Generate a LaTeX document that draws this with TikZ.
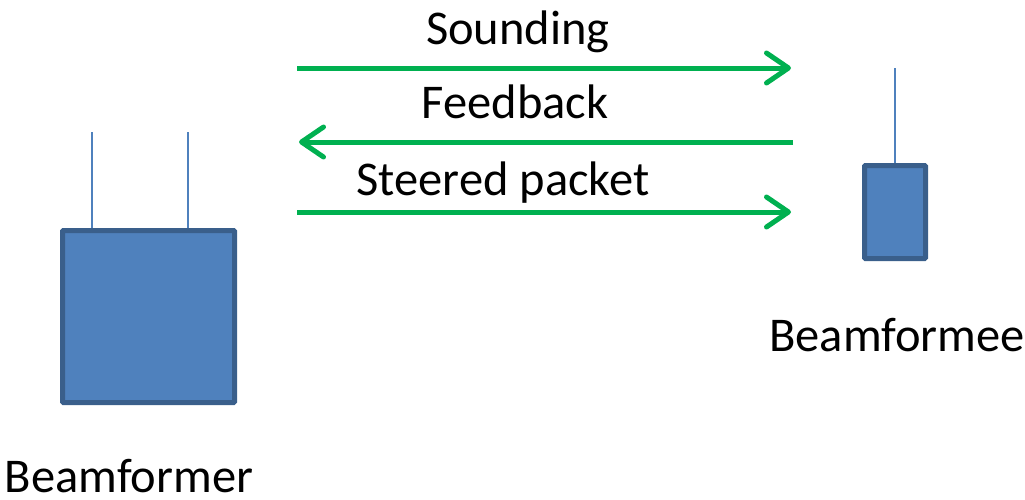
\documentclass[tikz,border=0pt]{standalone}
\usepackage{fontspec}
\setmainfont{Carlito}
\usetikzlibrary{arrows.meta}
\definecolor{boxfill}{HTML}{4F81BD}
\definecolor{boxline}{HTML}{3A5F8B}
\definecolor{arrgreen}{HTML}{00B050}
\tikzset{
  devbox/.style={draw=boxline, fill=boxfill, line width=5pt, rounded corners=1pt},
  antenna/.style={draw=boxfill, line width=2pt},
  sig/.style={draw=arrgreen, line width=5pt, -{Straight Barb[length=22pt,width=30pt,round]}},
  lbl/.style={font=\fontsize{48.5}{52}\selectfont, anchor=base, inner sep=0pt},
}
\begin{document}
\begin{tikzpicture}[x=1pt,y=-1pt]
\useasboundingbox (0,0) rectangle (1025,499);
% Beamformer
\draw[devbox] (62.5,230.5) rectangle (234.5,402.5);
\coordinate (a1b) at (92,228);
\coordinate (a1t) at (92,132);
\coordinate (a2b) at (188,228);
\coordinate (a2t) at (188,132);
\draw[antenna] (a1b) -- (a1t);
\draw[antenna] (a2b) -- (a2t);
% Beamformee
\draw[devbox] (864.5,165.5) rectangle (925.5,258.5);
\coordinate (a3b) at (895,163);
\coordinate (a3t) at (895,68);
\draw[antenna] (a3b) -- (a3t);
% arrows
\coordinate (s1) at (297,68);
\coordinate (s2) at (791,68);
\coordinate (f1) at (793,142);
\coordinate (f2) at (299,142);
\coordinate (p1) at (297,212);
\coordinate (p2) at (791,212);
\draw[sig] (s1) -- (s2);
\draw[sig] (f1) -- (f2);
\draw[sig] (p1) -- (p2);
% labels
\node[lbl] (tsound) at (518,44) {Sounding};
\node[lbl] (tfeed) at (515,118) {Feedback};
\node[lbl] (tsteer) at (503,195) {Steered packet};
\node[lbl] (tbee) at (897,351) {Beamformee};
\node[lbl] (tbfr) at (129,492) {Beamformer};
\end{tikzpicture}
\end{document}
